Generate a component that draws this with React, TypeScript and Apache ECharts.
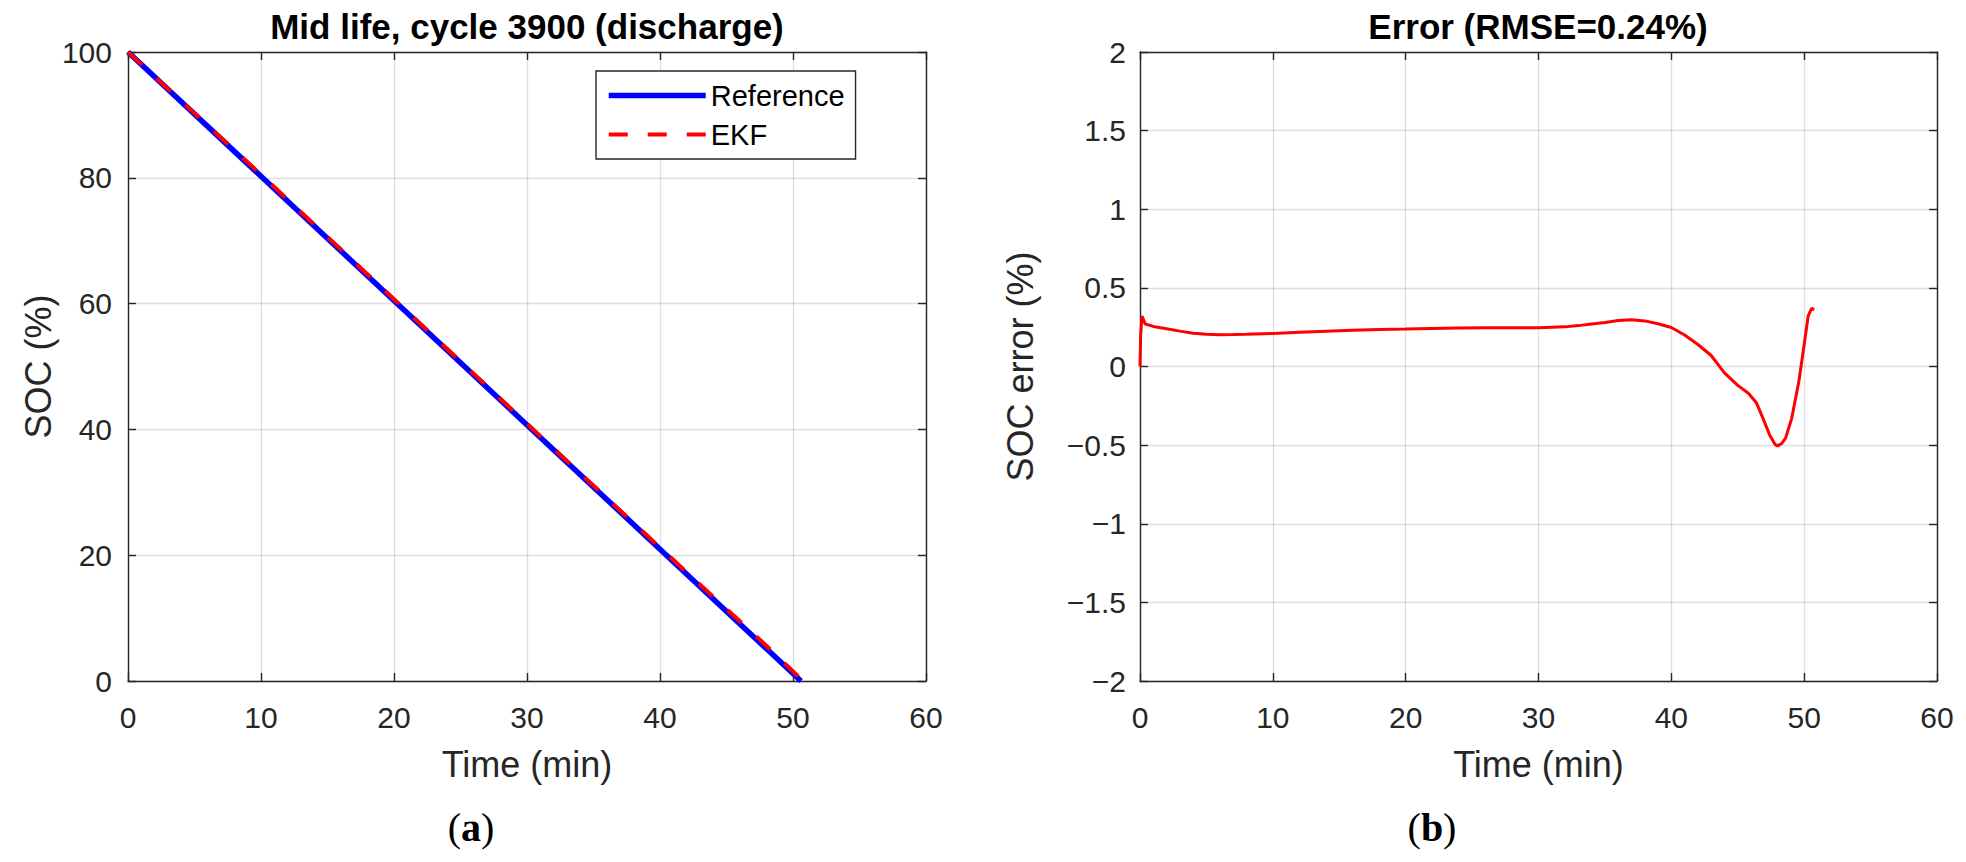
import * as echarts from "echarts";
import { useEffect, useRef } from "react";

// left panel: SOC (%) vs time (min)
const timeTicks = [0, 10, 20, 30, 40, 50, 60];
const socTicks = [0, 20, 40, 60, 80, 100];
const referenceSoc = [
  [0, 100],
  [50.6, 0],
];
const ekfSoc = [
  [0, 100],
  [10, 80.5],
  [20, 60.7],
  [30, 40.9],
  [40, 21.2],
  [48, 5.6],
  [50.75, 0],
];

// right panel: SOC error (%)
const errorTicks = [-2, -1.5, -1, -0.5, 0, 0.5, 1, 1.5, 2];
const errorTime = [
  0, 0.05, 0.15, 0.4, 1, 2, 3, 4, 5, 6, 7, 8, 10, 12, 14, 16, 18, 20, 22, 24,
  26, 28, 30, 32, 33, 34, 35, 36, 37, 38, 39, 40, 41, 42, 43, 44, 45, 45.8,
  46.4, 46.9, 47.4, 47.8, 48, 48.3, 48.6, 49.06, 49.6, 50, 50.3, 50.56, 50.75,
];
const errorValue = [
  0, 0.2, 0.32, 0.27, 0.255, 0.24, 0.225, 0.212, 0.205, 0.202, 0.203, 0.205,
  0.21, 0.218, 0.224, 0.23, 0.235, 0.238, 0.242, 0.245, 0.246, 0.246, 0.247,
  0.252, 0.26, 0.27, 0.28, 0.292, 0.297, 0.29, 0.272, 0.248, 0.2, 0.14, 0.07,
  -0.04, -0.12, -0.17, -0.23, -0.33, -0.435, -0.495, -0.505, -0.49, -0.456,
  -0.33, -0.095, 0.14, 0.32, 0.37, 0.36,
];

const FONT = '"Liberation Sans", Arial, Helvetica, sans-serif';
const SERIF = '"Liberation Serif", serif';
const AXIS = "#262626";
const GRID = "rgba(38,38,38,0.15)";
const EKF_DASH = [19, 20];

const minus = (v: number) => String(v).replace("-", "\u2212");

function mainAxis(
  grid: number,
  ticks: number[],
  name: string,
  nameGap: number,
  labelMargin: number
) {
  return {
    type: "value",
    gridIndex: grid,
    min: ticks[0],
    max: ticks[ticks.length - 1],
    interval: ticks[1] - ticks[0],
    name,
    nameLocation: "middle",
    nameGap,
    nameTextStyle: { fontFamily: FONT, fontSize: 36, color: AXIS },
    axisLine: { show: true, onZero: false, lineStyle: { color: AXIS, width: 1.4 } },
    axisTick: { show: true, inside: true, length: 8, lineStyle: { color: AXIS, width: 1.4 } },
    axisLabel: {
      margin: labelMargin,
      fontFamily: FONT,
      fontSize: 30,
      color: AXIS,
      showMinLabel: true,
      showMaxLabel: true,
      formatter: minus,
    },
    splitLine: { show: true, lineStyle: { color: GRID, width: 1.3 } },
  };
}

function boxAxis(grid: number, ticks: number[], position: string) {
  return {
    type: "value",
    gridIndex: grid,
    position,
    min: ticks[0],
    max: ticks[ticks.length - 1],
    interval: ticks[1] - ticks[0],
    axisLine: { show: true, onZero: false, lineStyle: { color: AXIS, width: 1.4 } },
    axisTick: { show: true, inside: true, length: 8, lineStyle: { color: AXIS, width: 1.4 } },
    axisLabel: { show: false },
    splitLine: { show: false },
  };
}

function panelLabel(letter: string, x: number) {
  return {
    type: "text",
    x,
    y: 827,
    style: {
      text: `{p|(}{b|${letter}}{p|)}`,
      align: "center",
      verticalAlign: "middle",
      rich: {
        p: { fontFamily: SERIF, fontSize: 40, fill: "#000" },
        b: { fontFamily: SERIF, fontSize: 40, fontWeight: "bold", fill: "#000" },
      },
    },
  };
}

export default function App() {
  const chartRef = useRef<HTMLDivElement>(null);

  useEffect(() => {
    if (!chartRef.current) return;
    document.body.style.margin = "0";

    const chart = echarts.init(chartRef.current, null, { renderer: "svg" });

    const titleStyle = { fontFamily: FONT, fontSize: 35, fontWeight: "bold", color: "#000" };

    chart.setOption({
      animation: false,
      backgroundColor: "#ffffff",
      title: [
        {
          text: "Mid life, cycle 3900 (discharge)",
          left: 527,
          top: 9,
          padding: 0,
          textAlign: "center",
          textStyle: titleStyle,
        },
        {
          text: "Error (RMSE=0.24%)",
          left: 1538,
          top: 9,
          padding: 0,
          textAlign: "center",
          textStyle: titleStyle,
        },
      ],
      legend: {
        data: [
          "Reference",
          { name: "EKF", lineStyle: { type: EKF_DASH, width: 4 } },
        ],
        orient: "vertical",
        left: 596,
        top: 71,
        padding: [10, 11, 10, 10],
        itemGap: 10,
        itemWidth: 97,
        itemHeight: 28,
        itemTextGap: 10,
        borderColor: AXIS,
        borderWidth: 1.4,
        backgroundColor: "#fff",
        itemStyle: { opacity: 0 },
        lineStyle: { width: "inherit" },
        textStyle: { fontFamily: FONT, fontSize: 29, color: "#000" },
      },
      grid: [
        { left: 128, top: 52, width: 798, height: 629 },
        { left: 1140, top: 52, width: 797, height: 629 },
      ],
      xAxis: [
        mainAxis(0, timeTicks, "Time (min)", 65, 21),
        boxAxis(0, timeTicks, "top"),
        mainAxis(1, timeTicks, "Time (min)", 65, 21),
        boxAxis(1, timeTicks, "top"),
      ],
      yAxis: [
        mainAxis(0, socTicks, "SOC (%)", 72, 16),
        boxAxis(0, socTicks, "right"),
        mainAxis(1, errorTicks, "SOC error (%)", 102, 14),
        boxAxis(1, errorTicks, "right"),
      ],
      series: [
        {
          name: "Reference",
          type: "line",
          xAxisIndex: 0,
          yAxisIndex: 0,
          data: referenceSoc,
          symbol: "none",
          clip: false,
          itemStyle: { color: "#0000ff" },
          lineStyle: { color: "#0000ff", width: 5.5 },
        },
        {
          name: "EKF",
          type: "line",
          xAxisIndex: 0,
          yAxisIndex: 0,
          data: ekfSoc,
          symbol: "none",
          clip: false,
          itemStyle: { color: "#ff0000" },
          lineStyle: { color: "#ff0000", width: 4, type: EKF_DASH },
        },
        {
          name: "Error",
          type: "line",
          xAxisIndex: 2,
          yAxisIndex: 2,
          data: errorTime.map((t, i) => [t, errorValue[i]]),
          symbol: "none",
          itemStyle: { color: "#ff0000" },
          lineStyle: { color: "#ff0000", width: 3 },
        },
      ],
      graphic: [panelLabel("a", 471), panelLabel("b", 1432)],
    });

    return () => {
      chart.dispose();
    };
  }, []);

  return <div ref={chartRef} style={{ width: 1966, height: 862 }} />;
}
